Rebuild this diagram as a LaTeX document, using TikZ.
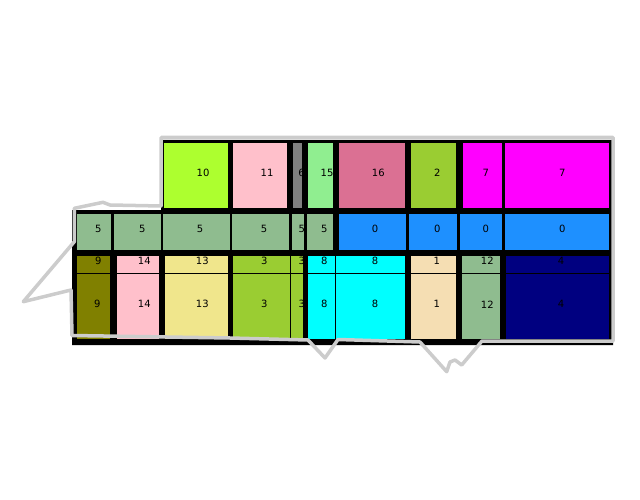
\documentclass[tikz,border=0pt]{standalone}
\usepackage{fontspec}
\setmainfont{DejaVu Sans}
\definecolor{outl}{RGB}{204,204,204}
\definecolor{cGreenYellow}{HTML}{ADFF2F}
\definecolor{cPink}{HTML}{FFC0CB}
\definecolor{cGray}{HTML}{808080}
\definecolor{cLightGreen}{HTML}{90EE90}
\definecolor{cPVR}{HTML}{DB7093}
\definecolor{cYellowGreen}{HTML}{9ACD32}
\definecolor{cMagenta}{HTML}{FF00FF}
\definecolor{cDSG}{HTML}{8FBC8F}
\definecolor{cDodger}{HTML}{1E90FF}
\definecolor{cOlive}{HTML}{808000}
\definecolor{cKhaki}{HTML}{F0E68C}
\definecolor{cCyan}{HTML}{00FFFF}
\definecolor{cWheat}{HTML}{F5DEB3}
\definecolor{cNavy}{HTML}{000080}
\tikzset{
  lbl/.style={inner sep=0pt, font=\fontsize{10}{12}\selectfont, text=black},
  cellline/.style={draw=black, line width=0.9pt},
  outline/.style={draw=outl, line width=3.5pt, line join=round, line cap=round},
}
\newcommand\cellbox[9]{%
  \fill[#6] (#2,#3) rectangle (#4,#5);
  \begin{scope}
    \clip (#2,#3) rectangle (#4,#5);
    \node[lbl] (#1) at (#8,#9) {#7};
  \end{scope}
  \draw[cellline] (#2,#3) rectangle (#4,#5);
}
\begin{document}
\begin{tikzpicture}[x=1pt,y=-1pt]
\useasboundingbox (0,0) rectangle (640,500);
% black background
\fill[black] (161,140) -- (613,140) -- (613,345) -- (72,345) -- (72,210) -- (161,210) -- cycle;
% top row
\cellbox{t10}{163.5}{142.7}{228.5}{208.3}{cGreenYellow}{10}{203}{172.5}
\cellbox{t11}{232.7}{142.7}{287.7}{208.3}{cPink}{11}{267}{172.5}
\cellbox{t6}{292.7}{142.7}{302.7}{208.3}{cGray}{6}{301.5}{172.5}
\cellbox{t15}{307.7}{142.7}{333.3}{208.3}{cLightGreen}{15}{327}{172.5}
\cellbox{t16}{338.3}{142.7}{405}{208.3}{cPVR}{16}{378.3}{172.5}
\cellbox{t2}{410}{142.7}{456.7}{208.3}{cYellowGreen}{2}{437.3}{172.5}
\cellbox{t7a}{462}{142.7}{502.3}{208.3}{cMagenta}{7}{485.7}{172.5}
\cellbox{t7b}{504}{142.7}{609.3}{208.3}{cMagenta}{7}{562.3}{172.5}
% second row
\cellbox{m5a}{76.7}{213.3}{111.7}{250.5}{cDSG}{5}{98.3}{228.5}
\cellbox{m5b}{113.5}{213.3}{161.7}{250.5}{cDSG}{5}{142.3}{228.5}
\cellbox{m5c}{162.5}{213.3}{230}{250.5}{cDSG}{5}{200}{228.5}
\cellbox{m5d}{231}{213.3}{289.5}{250.5}{cDSG}{5}{264}{228.5}
\cellbox{m5e}{291}{213.3}{304.3}{250.5}{cDSG}{5}{301.7}{228.5}
\cellbox{m5f}{306}{213.3}{333.3}{250.5}{cDSG}{5}{324.3}{228.5}
\cellbox{m0a}{338.3}{213.3}{406.7}{250.5}{cDodger}{0}{375}{228.5}
\cellbox{m0b}{408.3}{213.3}{457.7}{250.5}{cDodger}{0}{437.3}{228.5}
\cellbox{m0c}{459.3}{213.3}{502.3}{250.5}{cDodger}{0}{485.7}{228.5}
\cellbox{m0d}{504}{213.3}{609.3}{250.5}{cDodger}{0}{562.3}{228.5}
% bottom strip
\cellbox{s9}{76.7}{255.7}{110.7}{273.5}{cOlive}{9}{98.3}{260.5}
\cellbox{s14}{116}{255.7}{159.3}{273.5}{cPink}{14}{144.3}{260.5}
\cellbox{s13}{164.3}{255.7}{228.5}{273.5}{cKhaki}{13}{202.3}{260.5}
\cellbox{s3a}{232.7}{255.7}{290}{273.5}{cYellowGreen}{3}{264.3}{260.5}
\cellbox{s3b}{290}{255.7}{303.3}{273.5}{cYellowGreen}{3}{301.7}{260.5}
\cellbox{s8a}{307.7}{255.7}{335}{273.5}{cCyan}{8}{324.3}{260.5}
\cellbox{s8b}{335}{255.7}{405}{273.5}{cCyan}{8}{375}{260.5}
\cellbox{s1}{410}{255.7}{456}{273.5}{cWheat}{1}{436.7}{260.5}
\cellbox{s12}{461}{255.7}{500.7}{273.5}{cDSG}{12}{487.3}{260.5}
\cellbox{s4}{505.7}{255.7}{609.3}{273.5}{cNavy}{4}{561}{260.5}
% bottom main
\cellbox{b9}{76.7}{273.5}{110.7}{339}{cOlive}{9}{97.3}{304.3}
\cellbox{b14}{116}{273.5}{159.3}{339}{cPink}{14}{144.3}{304.3}
\cellbox{b13}{164.3}{273.5}{228.5}{339}{cKhaki}{13}{202.3}{304.3}
\cellbox{b3a}{232.7}{273.5}{290}{339}{cYellowGreen}{3}{264.3}{304.3}
\cellbox{b3b}{290}{273.5}{303.3}{339}{cYellowGreen}{3}{301.7}{304.3}
\cellbox{b8a}{307.7}{273.5}{335}{339}{cCyan}{8}{324.3}{304.3}
\cellbox{b8b}{335}{273.5}{405}{339}{cCyan}{8}{375}{304.3}
\cellbox{b1}{410}{273.5}{456}{339}{cWheat}{1}{436.7}{304.3}
\cellbox{b12}{461}{273.5}{500.7}{339}{cDSG}{12}{487.3}{304.3}
\cellbox{b4}{505.7}{273.5}{609.3}{339}{cNavy}{4}{561}{304.3}
% gray outline
\draw[outline] (161,137.5) -- (613,137.5) -- (613,341) -- (482,341) -- (461.7,365) -- (455,360)
  -- (450,362) -- (446.7,371.7) -- (420,342) -- (338,339.5) -- (325,358) -- (308,340)
  -- (230,338) -- (72,335.5) -- (71,290) -- (23.3,301.7) -- (74.3,241.7) -- (74.3,208.3)
  -- (103,202.3) -- (110,205) -- (161,206) -- cycle;
\end{tikzpicture}
\end{document}
